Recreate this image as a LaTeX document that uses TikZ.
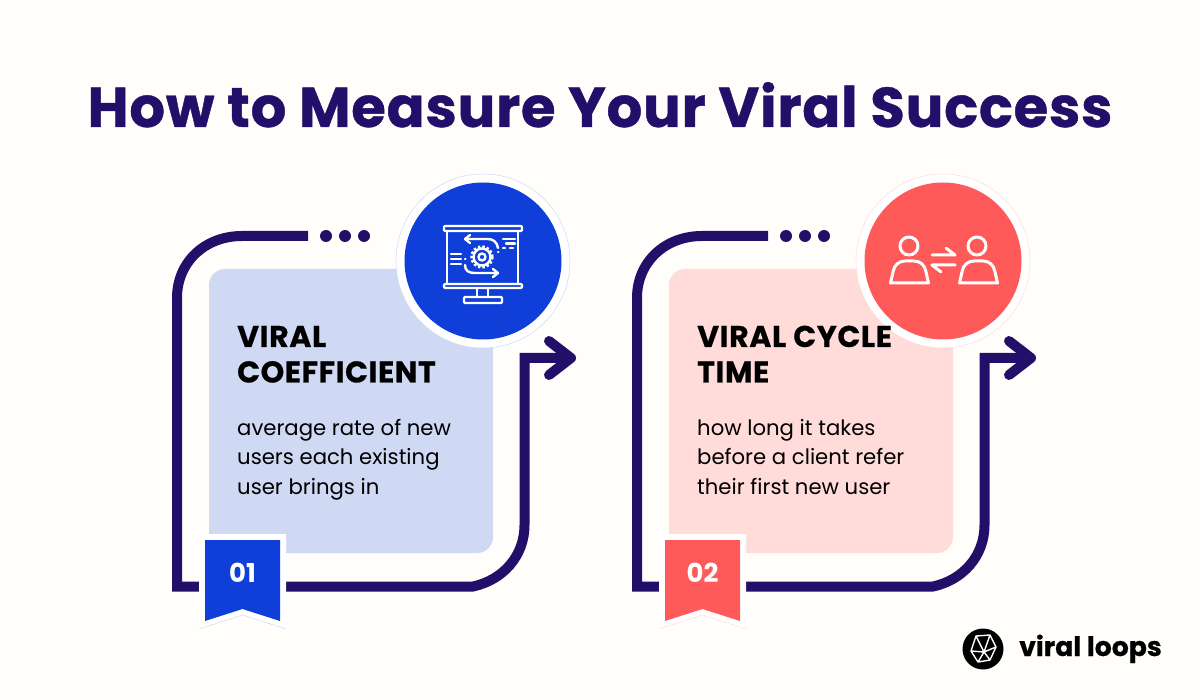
\documentclass[tikz,border=0pt]{standalone}
\usepackage{fontspec}
\setmainfont{Poppins}
\newfontfamily\titlefont[LetterSpace=1.5,BoldFont={Poppins Bold},BoldFeatures={FakeBold=0.8}]{Poppins}
\newfontfamily\headfont[LetterSpace=2,BoldFont={Poppins Bold},BoldFeatures={FakeBold=0.5}]{Poppins}
\newfontfamily\logofont[BoldFont={Poppins Bold},BoldFeatures={FakeBold=0.6}]{Poppins}
\usetikzlibrary{arrows.meta}
\definecolor{bgc}{HTML}{FFFEFA}
\definecolor{navy}{HTML}{21106A}
\definecolor{blueA}{HTML}{0F3FD8}
\definecolor{redA}{HTML}{FF5A5A}
\definecolor{panelA}{HTML}{D0D9F4}
\definecolor{panelB}{HTML}{FFDCD9}
\tikzset{
  framepath/.style={draw=navy,line width=10pt},
  headtext/.style={anchor=base west,inner sep=0pt,font=\headfont\fontsize{30}{30}\selectfont\bfseries,text=black},
  bodytext/.style={anchor=base west,inner sep=0pt,font=\fontsize{21.2}{21.2}\selectfont,text=black},
  iconline/.style={draw=white,line width=2.4pt,line cap=round,line join=round},
  iconfat/.style={draw=white,line width=3pt,line cap=round,line join=round},
  numtext/.style={inner sep=0pt,font=\fontsize{26}{26}\selectfont\bfseries,text=white},
  dotmark/.style={circle,fill=navy,minimum size=12pt,inner sep=0pt},
}
\newcommand{\cardbase}[3]{%
  \fill[#1,rounded corners=16pt] (209,269) rectangle (493,553);
  \draw[framepath] (308,236) -- (242,236) .. controls (205,236) and (177,262) .. (177,298) -- (177,586.5) -- (473,586.5) .. controls (503,580) and (524.5,556) .. (524.5,525) -- (524.5,358) -- (570,358);
  \draw[navy,line width=10pt,line cap=round,line join=round] (549,341) -- (571,358) -- (549,375);
  \node[dotmark] at (326,236) {};
  \node[dotmark] at (345,236) {};
  \node[dotmark] at (364,236) {};
  \fill[white,draw=#1,line width=0.5pt] (483,261) circle (87);
  \fill[#2] (483,261) circle (78.5);
  \fill[white] (199,534) -- (286,534) -- (286,629) -- (242.5,615) -- (199,629) -- cycle;
  \draw[#1,line width=0.5pt] (199,629) -- (242.5,615) -- (286,629);
  \fill[#2] (205,540) -- (280,540) -- (280,621) -- (242.5,609) -- (205,621) -- cycle;
  \node[numtext] at (242.5,573) {#3};
}
\begin{document}
\begin{tikzpicture}[x=1pt,y=-1pt]
\useasboundingbox (0,0) rectangle (1200,700);
\fill[bgc] (0,0) rectangle (1200,700);
\node[inner sep=0pt,anchor=base,text=navy,font=\titlefont\fontsize{56}{56}\selectfont\bfseries] (title) at (600,127) {How to Measure Your Viral Success};

% Card 1
\begin{scope}
\cardbase{panelA}{blueA}{01}
\node[headtext] (h1a) at (237,347) {VIRAL};
\node[headtext] (h1b) at (237,382.5) {COEFFICIENT};
\node[bodytext] (b1a) at (237,436) {average rate of new};
\node[bodytext] (b1b) at (237,465) {users each existing};
\node[bodytext] (b1c) at (237,494) {user brings in};
% presentation icon
\draw[iconline,rounded corners=1pt] (444,226) rectangle (522,231);
\draw[iconline] (447,231) -- (447,284) (518,231) -- (518,284);
\draw[iconline,rounded corners=1pt] (444,284) rectangle (522,288);
\draw[iconline] (477,288) -- (477,297) (488,288) -- (488,297);
\draw[iconline,rounded corners=1pt] (464,297) rectangle (502,303);
\draw[iconline] (482,257) circle (3.5);
\draw[iconline] (482,257) circle (8.5);
\draw[white,line width=2.5pt,dash pattern=on 2.5pt off 2pt] (482,257) circle (10.5);
\draw[iconline] (498,248) .. controls (497,242) and (493,239) .. (488,239) -- (465,239);
\draw[iconline] (470,235) -- (465,239) -- (470,243);
\draw[iconline] (465,265) .. controls (465,271) and (469,273) .. (475,273) -- (498,273);
\draw[iconline] (493,269) -- (498,273) -- (493,277);
\draw[iconline] (451,254) -- (461,254) (451,259) -- (461,259) (451,264) -- (461,264);
\draw[iconline] (465,259) -- (465.5,259) (498,252) -- (498.5,252);
\draw[iconline] (503,239) -- (515,239) (506,243.5) -- (515,243.5) (503,248) -- (505,248) (510,248) -- (513,248);
\end{scope}

% Card 2
\begin{scope}[xshift=460pt]
\cardbase{panelB}{redA}{02}
\node[headtext] (h2a) at (237,347) {VIRAL CYCLE};
\node[headtext] (h2b) at (237,382.5) {TIME};
\node[bodytext] (b2a) at (237,436) {how long it takes};
\node[bodytext] (b2b) at (237,465) {before a client refer};
\node[bodytext] (b2c) at (237,494) {their first new user};
% people icon
\draw[iconfat] (449,246) circle (9);
\draw[iconfat] (517,246) circle (9);
\draw[iconfat] (430.5,283) -- (433,272) .. controls (434,265) and (439,261) .. (445,261) -- (454,261) .. controls (460,261) and (465,265) .. (466,272) -- (468.5,283) -- cycle;
\draw[iconfat] (499.5,283) -- (502,272) .. controls (503,265) and (508,261) .. (514,261) -- (523,261) .. controls (529,261) and (534,265) .. (535,272) -- (537.5,283) -- cycle;
\draw[iconfat] (472,255) -- (495,255) -- (486,248);
\draw[iconfat] (495,265) -- (472,265) -- (481,272);
\end{scope}

% Logo
\fill[black] (983,649) circle (20.5);
\draw[white,line width=1.4pt,line join=round] (976,636) -- (990,635) -- (996,647) -- (990,660) -- (978,662) -- (971,651) -- cycle
  (976,636) -- (984,652) -- (996,647) (990,635) -- (984,652) -- (971,651) (984,652) -- (978,662) (984,652) -- (990,660);
\node[inner sep=0pt,anchor=base west,font=\logofont\fontsize{26.7}{26.7}\selectfont\bfseries,text=black] (logo) at (1019,656) {viral loops};
\end{tikzpicture}
\end{document}
